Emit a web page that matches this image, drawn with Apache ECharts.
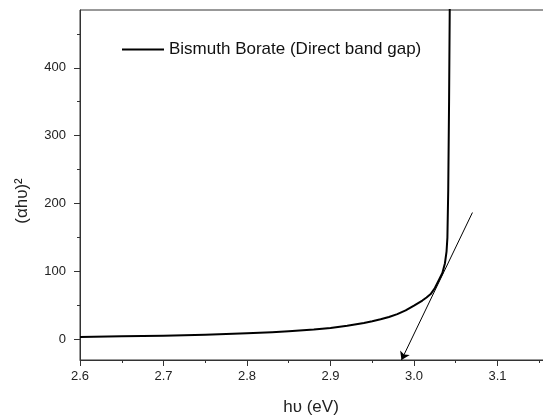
<!DOCTYPE html>
<html>
<head>
<meta charset="utf-8">
<script src="https://cdn.jsdelivr.net/npm/echarts@6/dist/echarts.min.js"></script>
<style>
html,body{margin:0;padding:0;background:#fff;}
#chart{width:543px;height:419px;}
</style>
</head>
<body>
<div id="chart"></div>
<script>
// Data
const seriesName = 'Bismuth Borate (Direct band gap)';
const hv   = [2.60, 2.65, 2.70, 2.75, 2.80, 2.83, 2.85, 2.88, 2.90, 2.92, 2.94, 2.95, 2.96, 2.97, 2.98, 2.99, 3.00, 3.01, 3.015, 3.02, 3.025, 3.03, 3.034, 3.037, 3.039, 3.040, 3.041, 3.042, 3.043];
const ahv2 = [3.9,  4.8,  5.8,  7.3,  9.2,  10.9, 12.3, 14.8, 17.2, 20.3, 24.5, 27,   30,   33.3, 37.5, 43,   50,   57.5, 62,    67,   76,    88,   98,    112,   130,   150,   220,   350,   520];
const tangentStart = [3.07, 187];
const tangentEnd   = [2.985, -30];
const yMajorTicks = [0, 100, 200, 300, 400];
const yMinorTicks = [50, 150, 250, 350, 450];
const xTitle = 'hυ (eV)';
const yTitle = '(αhυ)²';

const font = 'Liberation Sans, Arial, sans-serif';
const axisColor = '#333';

const chart = echarts.init(document.getElementById('chart'));
chart.setOption({
  animation: false,
  backgroundColor: '#fff',
  grid: {
    left: 80, top: 10, bottom: 59, right: -38,
    outerBoundsMode: 'none', containLabel: false,
    show: true, borderColor: axisColor, borderWidth: 1, backgroundColor: 'transparent'
  },
  legend: {
    data: [seriesName],
    left: 117, top: 36,
    icon: 'rect', itemWidth: 42, itemHeight: 2,
    textStyle: { fontSize: 17, color: '#111', fontFamily: font }
  },
  xAxis: {
    type: 'value', min: 2.6, max: 3.2, interval: 0.1,
    axisLine: { onZero: false, lineStyle: { color: axisColor, width: 1 } },
    axisTick: { show: true, length: 6, inside: false, lineStyle: { color: axisColor } },
    minorTick: { show: true, splitNumber: 2, length: 3, lineStyle: { color: axisColor } },
    axisLabel: { fontSize: 13, color: '#222', fontFamily: font, margin: 10,
      formatter: v => v.toFixed(1) },
    splitLine: { show: false }
  },
  yAxis: [{
    type: 'value', min: -30, max: 485,
    axisLine: { show: true, onZero: false, lineStyle: { color: axisColor, width: 1 } },
    axisTick: { show: true, length: 6, customValues: yMajorTicks, lineStyle: { color: axisColor } },
    axisLabel: { fontSize: 13, color: '#222', fontFamily: font, margin: 14, customValues: yMajorTicks },
    splitLine: { show: false }
  }, {
    type: 'value', min: -30, max: 485, position: 'left',
    axisLine: { show: false, onZero: false },
    axisTick: { show: true, length: 3, customValues: yMinorTicks, lineStyle: { color: axisColor } },
    axisLabel: { show: false },
    splitLine: { show: false }
  }],
  graphic: [
    { type: 'text', x: 311, y: 407, style: { text: xTitle, font: '17px ' + font, fill: '#222', textAlign: 'center', textVerticalAlign: 'middle' } },
    { type: 'text', x: 22, y: 201, rotation: Math.PI / 2, style: { text: yTitle, font: '17px ' + font, fill: '#222', textAlign: 'center', textVerticalAlign: 'middle' } }
  ],
  series: [{
    name: seriesName,
    type: 'line',
    data: hv.map((x, i) => [x, ahv2[i]]),
    showSymbol: false,
    smooth: false,
    clip: true,
    lineStyle: { color: '#000', width: 2, join: 'round' },
    itemStyle: { color: '#000' },
    markLine: {
      silent: true,
      symbol: ['none', 'arrow'],
      symbolSize: 8,
      label: { show: false },
      lineStyle: { color: '#000', width: 1, type: 'solid' },
      data: [[{ coord: tangentStart }, { coord: tangentEnd }]]
    }
  }]
});
</script>
</body>
</html>
